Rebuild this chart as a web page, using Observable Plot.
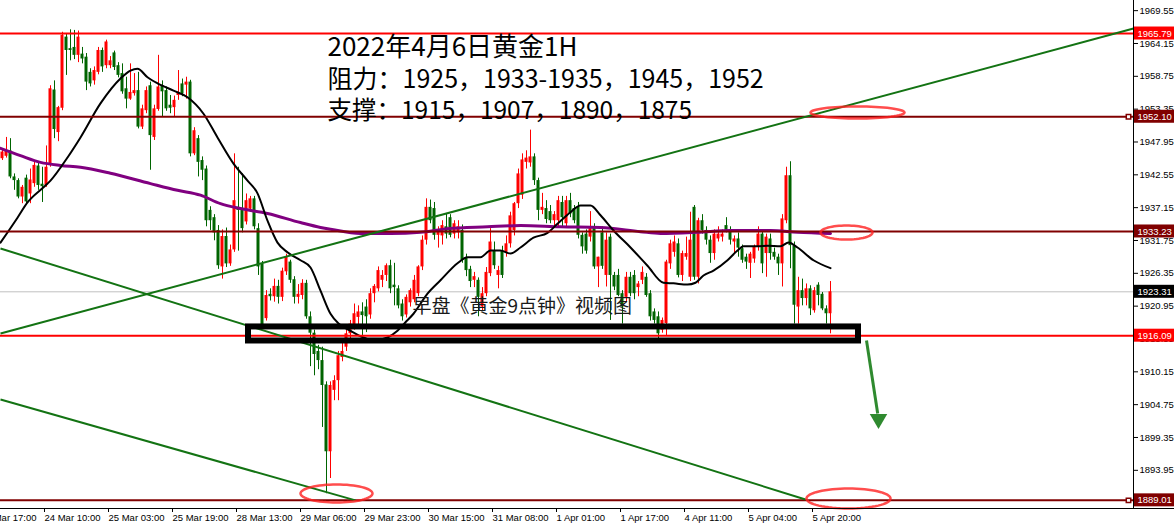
<!DOCTYPE html>
<html><head><meta charset="utf-8">
<script src="https://cdn.jsdelivr.net/npm/d3@7"></script>
<script src="https://cdn.jsdelivr.net/npm/@observablehq/plot@0.6"></script>
<style>html,body{margin:0;padding:0;background:#fff;overflow:hidden}</style>
</head><body><div id="chart"></div>
<script>
// ---- DATA (XAUUSD H1) ----
const opens = [
1945.2,1945.6,1946.5,1942.2,1941.6,1938.9,1942.0,1939.4,1941.1,1944.0,
1941.0,1940.8,1944.1,1956.5,1949.5,1953.5,1965.2,1963.3,1963.5,1962.2,
1962.4,1961.9,1959.4,1958.0,1959.4,1963.0,1960.5,1960.5,1962.6,1960.5,
1959.2,1956.7,1955.0,1955.9,1956.4,1950.4,1953.1,1957.2,1948.7,1953.3,
1957.2,1956.4,1954.0,1953.6,1955.6,1957.5,1957.3,1957.8,1946.0,1948.5,
1944.9,1943.5,1936.7,1935.5,1933.4,1927.4,1932.4,1927.9,1930.2,1937.2,
1936.7,1934.8,1936.9,1938.6,1933.7,1927.9,1918.9,1922.9,1922.5,1924.2,
1922.4,1926.6,1928.2,1925.3,1922.4,1922.7,1924.7,1919.2,1916.5,1913.5,
1912.0,1908.0,1897.0,1907.1,1908.7,1912.5,1914.2,1916.4,1917.5,1919.1,
1920.0,1920.8,1919.5,1923.0,1923.8,1925.2,1926.0,1927.6,1924.4,1923.8,
1921.3,1919.5,1921.5,1922.0,1923.0,1927.4,1931.8,1937.2,1937.0,1932.6,
1932.5,1934.0,1935.5,1932.8,1933.0,1933.4,1928.8,1927.0,1925.2,1925.2,
1920.8,1923.0,1926.3,1930.0,1926.0,1930.0,1929.8,1931.2,1933.4,1937.8,
1939.2,1944.6,1944.5,1945.5,1941.6,1936.7,1937.0,1936.5,1935.0,1935.0,
1938.0,1934.5,1938.3,1937.0,1937.2,1932.6,1932.8,1932.3,1934.0,1927.4,
1933.0,1926.0,1932.3,1926.0,1926.0,1923.0,1922.4,1925.7,1926.0,1924.0,
1925.2,1925.7,1923.0,1920.0,1919.2,1917.0,1918.1,1927.9,1929.8,1931.2,
1926.0,1929.0,1925.7,1937.2,1925.7,1935.0,1933.4,1931.8,1929.6,1932.0,
1932.3,1934.2,1933.4,1931.5,1932.0,1930.4,1929.0,1928.0,1928.7,1930.6,
1932.8,1929.6,1932.0,1929.8,1929.0,1927.9,1935.0,1942.4,1930.9,1920.8,
1923.5,1922.2,1923.8,1920.2,1924.4,1922.9,1920.5,1919.7];
const highs = [
1946.8,1948.7,1948.5,1942.7,1941.9,1940.8,1942.5,1943.5,1944.6,1944.5,
1943.8,1947.3,1957.2,1958.0,1953.8,1966.0,1965.7,1966.4,1966.3,1966.2,
1963.5,1962.5,1960.0,1960.3,1963.5,1963.4,1964.7,1962.0,1962.9,1961.0,
1960.8,1958.6,1960.8,1959.2,1959.4,1954.0,1957.0,1957.8,1954.0,1962.2,
1958.0,1957.0,1955.6,1955.5,1959.7,1958.3,1958.6,1958.1,1950.3,1949.0,
1945.5,1944.0,1937.3,1936.0,1934.2,1933.5,1933.8,1931.0,1946.0,1943.8,
1942.7,1939.4,1939.0,1939.0,1934.5,1928.3,1923.5,1923.8,1925.4,1925.2,
1927.2,1929.5,1928.5,1925.8,1924.5,1925.3,1925.2,1920.0,1917.0,1914.5,
1914.2,1908.5,1908.5,1909.5,1913.5,1914.8,1917.0,1918.6,1921.3,1921.0,
1921.5,1922.0,1923.8,1924.5,1927.4,1926.8,1927.9,1928.5,1928.0,1924.3,
1922.0,1922.8,1923.8,1926.0,1927.6,1932.5,1938.6,1938.4,1938.0,1934.0,
1935.0,1936.2,1936.0,1935.0,1935.0,1934.3,1929.5,1927.5,1926.5,1925.6,
1924.0,1927.3,1933.7,1931.5,1927.5,1930.8,1932.5,1936.4,1938.0,1943.5,
1946.0,1946.5,1949.9,1946.0,1942.0,1939.5,1938.3,1937.5,1936.5,1939.0,
1939.0,1939.0,1939.5,1937.5,1938.0,1933.0,1933.5,1936.5,1934.5,1929.0,
1934.0,1933.0,1932.8,1926.5,1927.0,1923.5,1926.5,1926.5,1926.8,1925.0,
1927.4,1926.3,1923.5,1920.5,1920.0,1919.0,1928.5,1931.8,1932.5,1932.0,
1930.0,1932.3,1936.4,1937.5,1935.4,1936.0,1934.0,1932.5,1933.5,1934.0,
1933.5,1935.5,1934.0,1932.5,1933.0,1931.0,1929.5,1929.8,1931.0,1934.0,
1933.3,1932.8,1932.8,1930.5,1929.5,1936.0,1943.8,1944.7,1931.5,1925.7,
1925.4,1924.6,1924.3,1924.0,1924.8,1923.2,1921.0,1925.0];
const lows = [
1944.9,1945.3,1941.9,1940.0,1938.6,1937.8,1937.5,1937.8,1940.5,1940.0,
1938.0,1940.5,1943.8,1948.5,1948.0,1953.1,1958.9,1961.3,1961.5,1961.0,
1960.8,1956.4,1957.0,1957.3,1959.0,1959.4,1960.0,1960.0,1959.7,1958.5,
1955.8,1953.4,1954.8,1955.5,1950.1,1950.0,1952.6,1943.3,1948.2,1953.0,
1952.0,1953.0,1952.6,1952.0,1954.8,1955.4,1955.0,1945.5,1945.7,1942.2,
1941.6,1934.0,1933.4,1931.7,1927.0,1925.4,1927.3,1927.5,1929.8,1930.0,
1933.0,1934.3,1936.5,1933.5,1926.0,1917.3,1918.5,1921.8,1921.6,1921.3,
1921.7,1926.0,1924.7,1921.3,1921.3,1922.0,1918.8,1911.0,1909.5,1910.5,
1901.0,1890.1,1892.6,1905.4,1905.4,1911.8,1913.5,1915.5,1917.0,1917.5,
1916.0,1916.6,1918.8,1921.5,1923.3,1924.0,1925.0,1923.0,1921.0,1920.5,
1918.5,1919.0,1920.8,1921.5,1922.5,1926.8,1931.0,1934.5,1931.8,1930.5,
1931.0,1932.0,1932.2,1932.0,1932.0,1928.0,1925.8,1924.0,1924.0,1919.2,
1920.2,1922.5,1925.8,1927.0,1923.8,1925.5,1929.0,1930.5,1932.5,1937.0,
1938.5,1943.5,1943.8,1940.8,1935.0,1936.0,1934.5,1934.5,1934.0,1934.0,
1934.0,1934.0,1935.5,1934.5,1932.0,1929.5,1929.5,1931.5,1927.0,1924.0,
1927.0,1924.1,1918.6,1923.5,1922.5,1918.0,1921.5,1922.5,1922.0,1922.5,
1924.5,1922.4,1918.5,1918.0,1915.6,1916.5,1916.0,1927.0,1929.0,1925.6,
1925.0,1928.5,1925.0,1925.2,1924.6,1932.8,1931.0,1928.0,1928.5,1931.5,
1931.5,1933.0,1931.0,1929.5,1929.0,1928.0,1927.0,1925.5,1928.0,1930.0,
1926.3,1925.7,1928.5,1928.5,1926.0,1924.1,1934.5,1927.1,1918.0,1918.0,
1921.0,1921.0,1919.4,1919.8,1921.0,1920.2,1918.0,1916.4];
const closes = [
1946.3,1946.5,1942.2,1941.6,1938.9,1940.5,1938.1,1941.7,1944.1,1940.8,
1940.6,1943.8,1956.7,1950.0,1953.6,1965.5,1963.0,1963.0,1962.2,1965.2,
1961.6,1957.8,1957.5,1959.7,1963.0,1960.3,1964.4,1961.3,1960.2,1958.9,
1956.2,1955.0,1956.1,1956.4,1950.4,1953.4,1956.4,1949.0,1953.4,1957.0,
1956.2,1953.4,1953.5,1954.8,1956.0,1955.9,1957.8,1946.0,1949.8,1944.6,
1943.3,1935.0,1935.0,1933.0,1927.6,1932.4,1927.9,1930.2,1938.3,1936.7,
1933.7,1938.3,1938.6,1934.0,1927.4,1917.8,1922.7,1922.5,1924.2,1922.4,
1926.7,1929.0,1925.2,1922.4,1922.9,1924.7,1919.2,1916.5,1913.0,1912.0,
1907.9,1897.0,1907.9,1908.7,1912.8,1913.5,1916.4,1918.0,1919.7,1920.0,
1919.4,1919.2,1923.0,1924.2,1926.8,1926.0,1927.6,1923.8,1924.0,1921.0,
1919.2,1922.4,1923.5,1925.2,1927.4,1931.8,1937.2,1935.0,1932.6,1933.5,
1934.2,1932.8,1932.6,1934.5,1934.0,1928.5,1926.8,1925.0,1925.8,1922.4,
1923.0,1926.5,1931.5,1927.6,1926.8,1926.0,1931.2,1935.8,1937.8,1942.7,
1945.0,1945.3,1945.5,1941.6,1936.7,1937.2,1935.2,1935.0,1936.0,1938.3,
1935.5,1938.3,1936.1,1935.0,1932.6,1930.7,1930.0,1934.0,1927.4,1929.0,
1927.5,1931.8,1926.0,1924.1,1922.7,1920.8,1925.7,1923.0,1923.0,1924.6,
1926.5,1922.7,1919.2,1918.6,1916.4,1918.6,1928.2,1931.2,1931.5,1926.0,
1929.6,1929.6,1931.8,1925.7,1935.0,1933.4,1931.8,1929.6,1932.8,1932.8,
1932.8,1933.4,1931.8,1932.0,1930.5,1928.5,1928.2,1929.5,1930.6,1932.8,
1927.9,1932.3,1929.6,1929.0,1927.9,1935.3,1942.4,1930.9,1921.1,1923.5,
1922.2,1923.8,1920.5,1923.5,1922.7,1920.5,1919.7,1923.31];

// moving averages (bar index, price)
const blackMaIdx = [-0.5,3.75,6.25,10.25,12,16.25,19.5,24.5,29.5,32,33.75,36.25,38.75,42.75,46.25,50.25,53.75,57.75,61.25,63.75,66.25,68.75,71.25,74.5,77,79.5,82,84,87,90.25,92.75,96.25,98.75,100.75,102.75,106.25,109.5,113.75,116.25,119.5,122,124.5,127,129.5,132.75,136.25,138.75,142,144.5,147,149.5,152.75,157,161.25,165.25,167.75,171.25,173.25,175.25,177.75,181.25,183.75,185.25,188.75,191.25,194.5,196.5,198.75,202.75,207];
const blackMaVal = [1931.4,1935.5,1938.0,1940.5,1941.6,1945.4,1948.7,1954.3,1958.4,1959.7,1960.0,1958.6,1957.6,1956.4,1955.3,1952.6,1948.7,1944.4,1941.6,1939.5,1935.0,1931.4,1929.8,1928.5,1927.3,1923.5,1919.7,1918.1,1916.9,1915.8,1915.3,1915.8,1916.9,1918.3,1919.7,1923.0,1925.2,1928.0,1929.0,1929.0,1930.1,1930.1,1929.6,1930.6,1932.2,1933.0,1934.5,1936.4,1937.5,1937.5,1935.9,1933.4,1930.6,1927.6,1924.8,1924.7,1924.5,1924.8,1926.0,1926.8,1928.5,1930.1,1930.8,1930.8,1930.9,1930.8,1931.4,1930.6,1928.5,1927.2];
const purpleMaIdx = [-0.5,4.5,9.5,14.5,19.5,27,37,43.75,49.5,54.5,59.5,66.25,74.5,79.5,82,89.5,97,104.5,111.25,121.25,129.5,139.5,149.5,159.5,164.5,173.75,182,192,198.75,207];
const purpleMaVal = [1946.9,1945.7,1944.6,1944.1,1943.8,1942.8,1941.1,1940.0,1939.2,1937.8,1937.0,1936.2,1934.7,1933.9,1933.6,1932.9,1932.9,1933.1,1933.7,1934.0,1934.2,1934.0,1933.9,1933.2,1932.9,1933.1,1933.4,1933.4,1933.1,1932.9];

// horizontal levels
const levelPrices = [1965.79, 1952.10, 1933.23, 1916.09, 1889.01];
const currentPrice = 1923.31;
// trend lines (bar index, price)
const trendX1 = [-0.5, -0.5, -0.5];
const trendY1 = [1916.45, 1930.43, 1905.6];
const trendX2 = [282.75, 200.75, 88.25];
const trendY2 = [1966.6, 1889.15, 1889.0];
// forecast arrow (bar index, price)
const arrowFrom = [216.0, 1915.3];
const arrowTo = [218.8, 1903.3];
const arrowHead = [219.0, 1902.4];
// marked zones (ellipses) centres: bar index, price
const ellipseIdx = [213.75, 211, 83.5, 211.5];
const ellipsePrice = [1952.8, 1933.06, 1890.14, 1889.31];
// support box
const boxIdx = [61.5, 214];
const boxPrice = [1915.22, 1917.53];
// axes
const yTicks = [1969.55,1964.15,1958.75,1953.35,1947.95,1942.55,1937.15,1931.75,1926.35,1920.95,1915.55,1910.15,1904.75,1899.35,1893.95,1888.55];
const xTickIdx = [-6,10,26,42,58,74,90,106,122,138,154,170,186,202];
const xTickLabels = ["23 Mar 17:00","24 Mar 10:00","25 Mar 03:00","25 Mar 19:00","28 Mar 13:00","29 Mar 06:00","29 Mar 23:00","30 Mar 15:00","31 Mar 08:00","1 Apr 01:00","1 Apr 17:00","4 Apr 11:00","5 Apr 04:00","5 Apr 20:00"];
const priceLabels = [1965.79, 1952.10, 1933.23, 1923.31, 1916.09, 1889.01];
const titleLines = ["2022年4月6日黄金1H", "阻力：1925，1933-1935，1945，1952", "支撑：1915，1907，1890，1875"];
const noteText = "早盘《黄金9点钟》视频图";

// ---- STYLES ----
const UP = "#ff0000", DOWN = "#006400", TREND = "#137313";
const levelColors = ["#ff0000", "#800000", "#800000", "#ff0000", "#800000"];
const labelFills = ["#ff0000", "#800000", "#800000", "#000000", "#ff0000", "#800000"];
const ellipseRadii = [[47, 6], [26, 7], [36, 9], [42, 10]];
const PXPERUNIT = 6.08;
const axisFont = "'Liberation Sans', Arial, sans-serif";
const AXFS = 9.5;

const bars = opens.map((o, i) => ({i, o, h: highs[i], l: lows[i], c: closes[i]}));
const col = d => d.c >= d.o ? UP : DOWN;
const blackMa = blackMaIdx.map((x, k) => ({x, y: blackMaVal[k]}));
const purpleMa = purpleMaIdx.map((x, k) => ({x, y: purpleMaVal[k]}));
const levels = levelPrices.map((p, k) => ({p, k}));
const trends = trendX1.map((x, k) => ({x1: x, y1: trendY1[k], x2: trendX2[k], y2: trendY2[k]}));
const labels = priceLabels.map((p, k) => ({p, k}));
const xLabelMap = new Map(xTickIdx.map((v, k) => [v, xTickLabels[k]]));
const X0 = -0.5, X1 = 282.75, Y0 = 1887.67, Y1 = 1971.22;
const half = 6.5 / PXPERUNIT;

function ellipseSymbol(rx, ry) {
  return {draw(ctx) {
    const n = 64;
    for (let k = 0; k <= n; ++k) {
      const t = 2 * Math.PI * k / n;
      const px = rx * Math.cos(t), py = ry * Math.sin(t);
      if (k === 0) ctx.moveTo(px, py); else ctx.lineTo(px, py);
    }
    ctx.closePath();
  }};
}
const ellipseMarks = ellipseIdx.map((x, k) =>
  Plot.dot([{x, y: ellipsePrice[k]}], {x: "x", y: "y", symbol: ellipseSymbol(...ellipseRadii[k]),
    stroke: "#ff2020", strokeOpacity: 0.8, strokeWidth: 2.5, fill: "none"}));

const cjk = "'Noto Sans CJK SC', 'Noto Sans', sans-serif";

const chart = Plot.plot({
  width: 1174, height: 526,
  marginLeft: 0, marginRight: 41, marginTop: 0, marginBottom: 18,
  x: {domain: [X0, X1], axis: null},
  y: {domain: [Y0, Y1], axis: null},
  style: {fontFamily: axisFont, fontSize: AXFS + "px", background: "#fff", color: "#000", overflow: "hidden"},
  marks: [
    Plot.ruleY([currentPrice], {stroke: "#c0c0c0", strokeWidth: 1}),
    // candles
    Plot.ruleX(bars, {x: "i", y1: "l", y2: "h", stroke: col, strokeWidth: 1}),
    Plot.rect(bars, {x1: d => d.i - 0.375, x2: d => d.i + 0.375,
      y1: d => Math.min(d.o, d.c), y2: d => Math.max(d.o, d.c) + (Math.abs(d.o - d.c) < 0.17 ? 0.17 : 0), fill: col}),
    // moving averages
    Plot.line(purpleMa, {x: "x", y: "y", stroke: "#800080", strokeWidth: 3, curve: "monotone-x"}),
    Plot.line(blackMa, {x: "x", y: "y", stroke: "#000", strokeWidth: 2, curve: "monotone-x"}),
    // horizontal levels
    Plot.ruleY(levels, {y: "p", stroke: d => levelColors[d.k], strokeWidth: 2}),
    // trend lines
    Plot.link(trends, {x1: "x1", y1: "y1", x2: "x2", y2: "y2", stroke: TREND, strokeWidth: 2}),
    // support box
    Plot.rect([0], {x1: () => boxIdx[0], x2: () => boxIdx[1], y1: () => boxPrice[0], y2: () => boxPrice[1], fill: "none", stroke: "#000", strokeWidth: 6}),
    // ellipses
    ...ellipseMarks,
    // forecast arrow
    Plot.link([0], {x1: () => arrowFrom[0], y1: () => arrowFrom[1], x2: () => arrowTo[0], y2: () => arrowTo[1], stroke: "#2f8a2f", strokeWidth: 3}),
    Plot.dot([0], {x: () => arrowHead[0], y: () => arrowHead[1], symbol: "triangle", rotate: 180, r: 6.5, fill: "#2f8a2f", stroke: "none"}),
    // axis frame
    Plot.ruleX([X1], {stroke: "#000", strokeWidth: 1}),
    Plot.ruleY([Y0], {x1: X0, x2: 293, stroke: "#000", strokeWidth: 1}),
    Plot.axisY(yTicks, {anchor: "right", tickSize: 4, tickPadding: 2, tickFormat: d => d.toFixed(2), fill: "#000", fontSize: AXFS, fontFamily: axisFont}),
    Plot.axisX(xTickIdx, {anchor: "bottom", tickSize: 4, tickPadding: 2, textAnchor: "start", dx: 2, tickFormat: d => xLabelMap.get(d), fill: "#000", fontSize: AXFS, fontFamily: axisFont}),
    // price labels on the axis
    Plot.rect(labels, {x1: 283, x2: 293, y1: d => d.p - half, y2: d => d.p + half, fill: d => labelFills[d.k]}),
    Plot.text(labels, {x: 283.75, y: "p", text: d => d.p.toFixed(2), textAnchor: "start", fill: "#fff", fontSize: AXFS, fontFamily: axisFont}),
    Plot.dot([priceLabels[1], priceLabels[5]], {x: 281.5, y: d => d, symbol: "square", r: 2.5, fill: "#fff", stroke: "#800000", strokeWidth: 1.5}),
    // texts
    Plot.text([titleLines[0]], {frameAnchor: "top-left", dx: 327, dy: 47, text: d => d, textAnchor: "start", lineAnchor: "middle", fontSize: 26, fontFamily: cjk, fill: "#000"}),
    Plot.text([titleLines[1]], {frameAnchor: "top-left", dx: 327, dy: 79, text: d => d, textAnchor: "start", lineAnchor: "middle", fontSize: 25, fontFamily: cjk, fill: "#000"}),
    Plot.text([titleLines[2]], {frameAnchor: "top-left", dx: 327, dy: 111, text: d => d, textAnchor: "start", lineAnchor: "middle", fontSize: 24.5, fontFamily: cjk, fill: "#000"}),
    Plot.text([noteText], {frameAnchor: "top-left", dx: 412, dy: 306, text: d => d, textAnchor: "start", lineAnchor: "middle", fontSize: 19, fontFamily: cjk, fill: "#1a1a1a"})
  ]
});
document.getElementById("chart").appendChild(chart);
</script>
</body></html>
